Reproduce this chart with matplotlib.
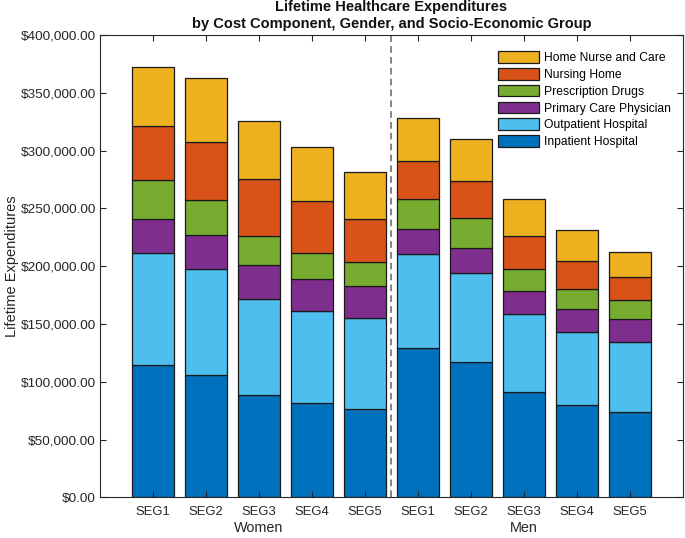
import matplotlib
matplotlib.use("Agg")
import matplotlib.pyplot as plt
from matplotlib.ticker import FuncFormatter, MultipleLocator
import numpy as np

plt.rcParams['font.family'] = ['Liberation Sans', 'DejaVu Sans']

segments = ["SEG1", "SEG2", "SEG3", "SEG4", "SEG5", "SEG1", "SEG2", "SEG3", "SEG4", "SEG5"]
groups = ["Women", "Men"]

# component values (dollars), first five = Women SEG1..5, last five = Men SEG1..5
inpatient = [114500, 105500, 88800, 81300, 76700, 129200, 117100, 90800, 79600, 73500]
outpatient = [96900, 91800, 83000, 80200, 78200, 81000, 77200, 67500, 63200, 60900]
primary_care = [29400, 29400, 28900, 27700, 27700, 21700, 21700, 20200, 19900, 20000]
prescription = [34000, 30500, 25400, 22400, 21000, 26500, 25400, 19300, 17300, 16300]
nursing_home = [46200, 50200, 49000, 44500, 37400, 32300, 32300, 28300, 24700, 19600]
home_nurse = [51000, 55600, 50500, 47200, 40400, 37700, 36600, 32300, 26600, 21900]

components = [
    ("Inpatient Hospital", inpatient, "#0072BD"),
    ("Outpatient Hospital", outpatient, "#4DBEEE"),
    ("Primary Care Physician", primary_care, "#7E2F8E"),
    ("Prescription Drugs", prescription, "#77AC30"),
    ("Nursing Home", nursing_home, "#D95319"),
    ("Home Nurse and Care", home_nurse, "#EDB120"),
]

fig = plt.figure(figsize=(6.85, 5.38), dpi=100)
ax = fig.add_axes([100/685, 1-497.3/538, (683-100)/685, (497.3-35)/538])

x = np.arange(1, len(segments) + 1)
bottom = np.zeros(len(segments))
handles = []
for name, vals, col in components:
    v = np.array(vals, dtype=float)
    h = ax.bar(x, v, 0.8, bottom=bottom, color=col, edgecolor="#1a1a1a",
               linewidth=0.9, label=name)
    handles.append(h)
    bottom += v

ax.axvline(5.5, color="#707070", linestyle=(0, (4, 2.5)), linewidth=1.2, zorder=0.5)

ax.set_xlim(0, 11)
ax.set_ylim(0, 400000)
ax.yaxis.set_major_locator(MultipleLocator(50000))
ax.yaxis.set_major_formatter(FuncFormatter(lambda v, p: "${:,.2f}".format(v)))
ax.set_xticks(x)
ax.set_xticklabels(segments, fontsize=9.4, color="#262626")
ax.tick_params(axis="both", direction="in", top=True, right=True, length=4,
               width=0.8, color="#262626", labelcolor="#262626")
ax.tick_params(axis="y", labelsize=9.7, pad=3)
ax.tick_params(axis="x", pad=6)
for s in ax.spines.values():
    s.set_color("#262626")
    s.set_linewidth(0.8)

ax.set_ylabel("Lifetime Expenditures", fontsize=10.5, color="#262626", labelpad=1)

ax.text(3, -0.052, groups[0], transform=ax.get_xaxis_transform(), ha="center",
        va="top", fontsize=10.4, color="#262626")
ax.text(8, -0.052, groups[1], transform=ax.get_xaxis_transform(), ha="center",
        va="top", fontsize=10.4, color="#262626")

ax.set_title("Lifetime Healthcare Expenditures\nby Cost Component, Gender, and Socio-Economic Group",
             fontsize=10.5, fontweight="bold", color="#111111", pad=5, linespacing=1.25)

leg = ax.legend(handles[::-1], [c[0] for c in components][::-1], loc="upper right",
                bbox_to_anchor=(0.993, 0.983), frameon=False, fontsize=8.7,
                handlelength=3.4, handleheight=1.1, handletextpad=0.4,
                labelspacing=0.32, borderaxespad=0.3)

fig.savefig("out.png", dpi=100)
